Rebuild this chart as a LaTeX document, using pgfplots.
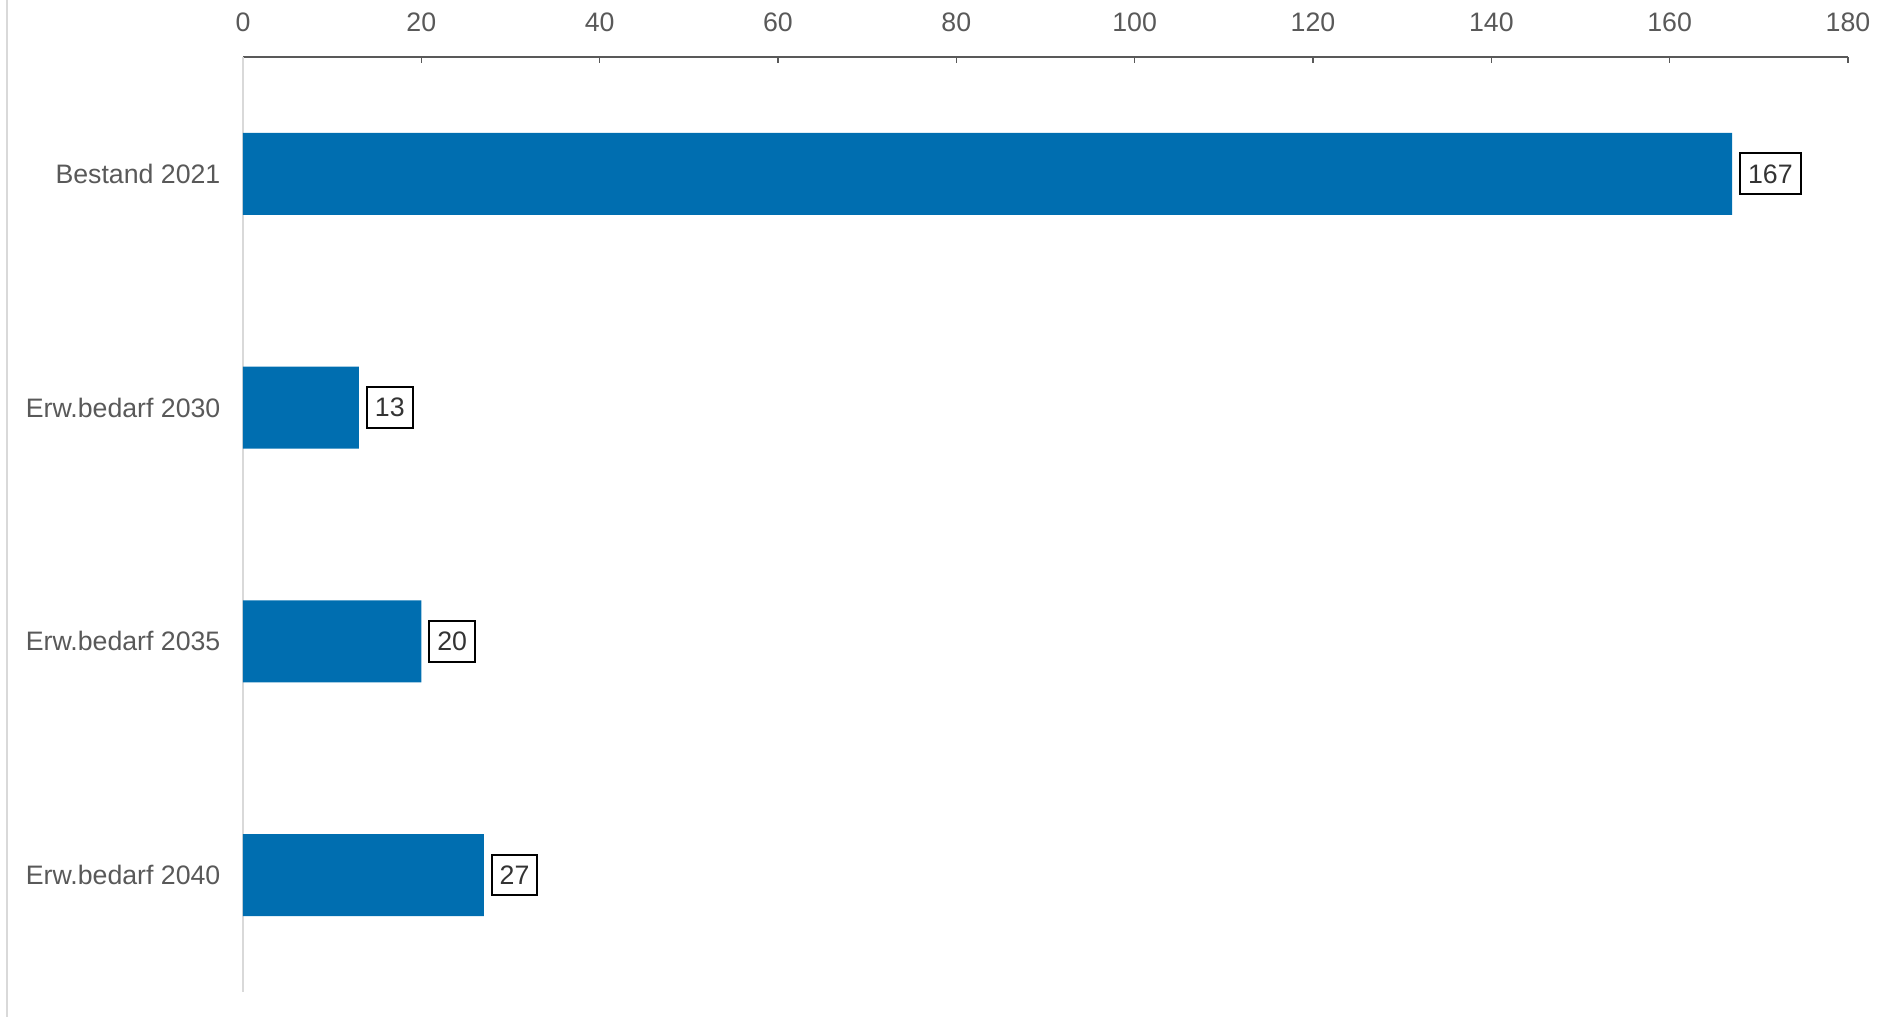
\documentclass[border=0pt]{standalone}
\usepackage{fontspec}
\setmainfont{Liberation Sans}
\usepackage{pgfplots}
\pgfplotsset{compat=1.18}
\definecolor{barblue}{RGB}{0,110,176}
\definecolor{txtgray}{RGB}{89,89,89}
\definecolor{axgray}{RGB}{217,217,217}

\begin{document}
\fontsize{7.6}{9}\selectfont
\begin{tikzpicture}
\begin{axis}[name=ax, scale only axis, width=160.5mm, height=93.5mm,
    xmin=0, xmax=180, xtick={0,20,...,180},
    ymin=-0.5, ymax=3.5, y dir=reverse,
    ytick={0,1,2,3},
    yticklabels={Bestand 2021, Erw.bedarf 2030, Erw.bedarf 2035, Erw.bedarf 2040},
    axis x line*=top, axis y line*=left,
    x axis line style={-, txtgray, line width=0.15mm},
    y axis line style={-, axgray, line width=0.2mm},
    xtick style={txtgray, line width=0.15mm}, ytick style={draw=none},
    major tick length=0.6mm, tick align=inside,
    ticklabel style={font=\fontsize{7.6}{9}\selectfont, text=txtgray},
    xticklabel style={yshift=1.6mm},
    yticklabel style={xshift=-0.7mm},
    /pgf/number format/assume math mode=true,
    xbar, bar width=0.35,
    nodes near coords,
    every node near coord/.append style={draw=black, line width=0.2mm, text=black!80,
        font=\fontsize{7.6}{9}\selectfont, inner xsep=0.8mm, inner ysep=1.1mm, xshift=0.7mm},
  ]
  \addplot[fill=barblue, draw=none] coordinates {(167,0) (13,1) (20,2) (27,3)};
\end{axis}
\pgfresetboundingbox
\path[use as bounding box] (-24.3mm,-2.5mm) rectangle (164.5mm,99.2mm);
\draw[axgray, line width=0.2mm] (-23.6mm,-2.5mm) -- (-23.6mm,99.2mm);
\end{tikzpicture}
\end{document}
